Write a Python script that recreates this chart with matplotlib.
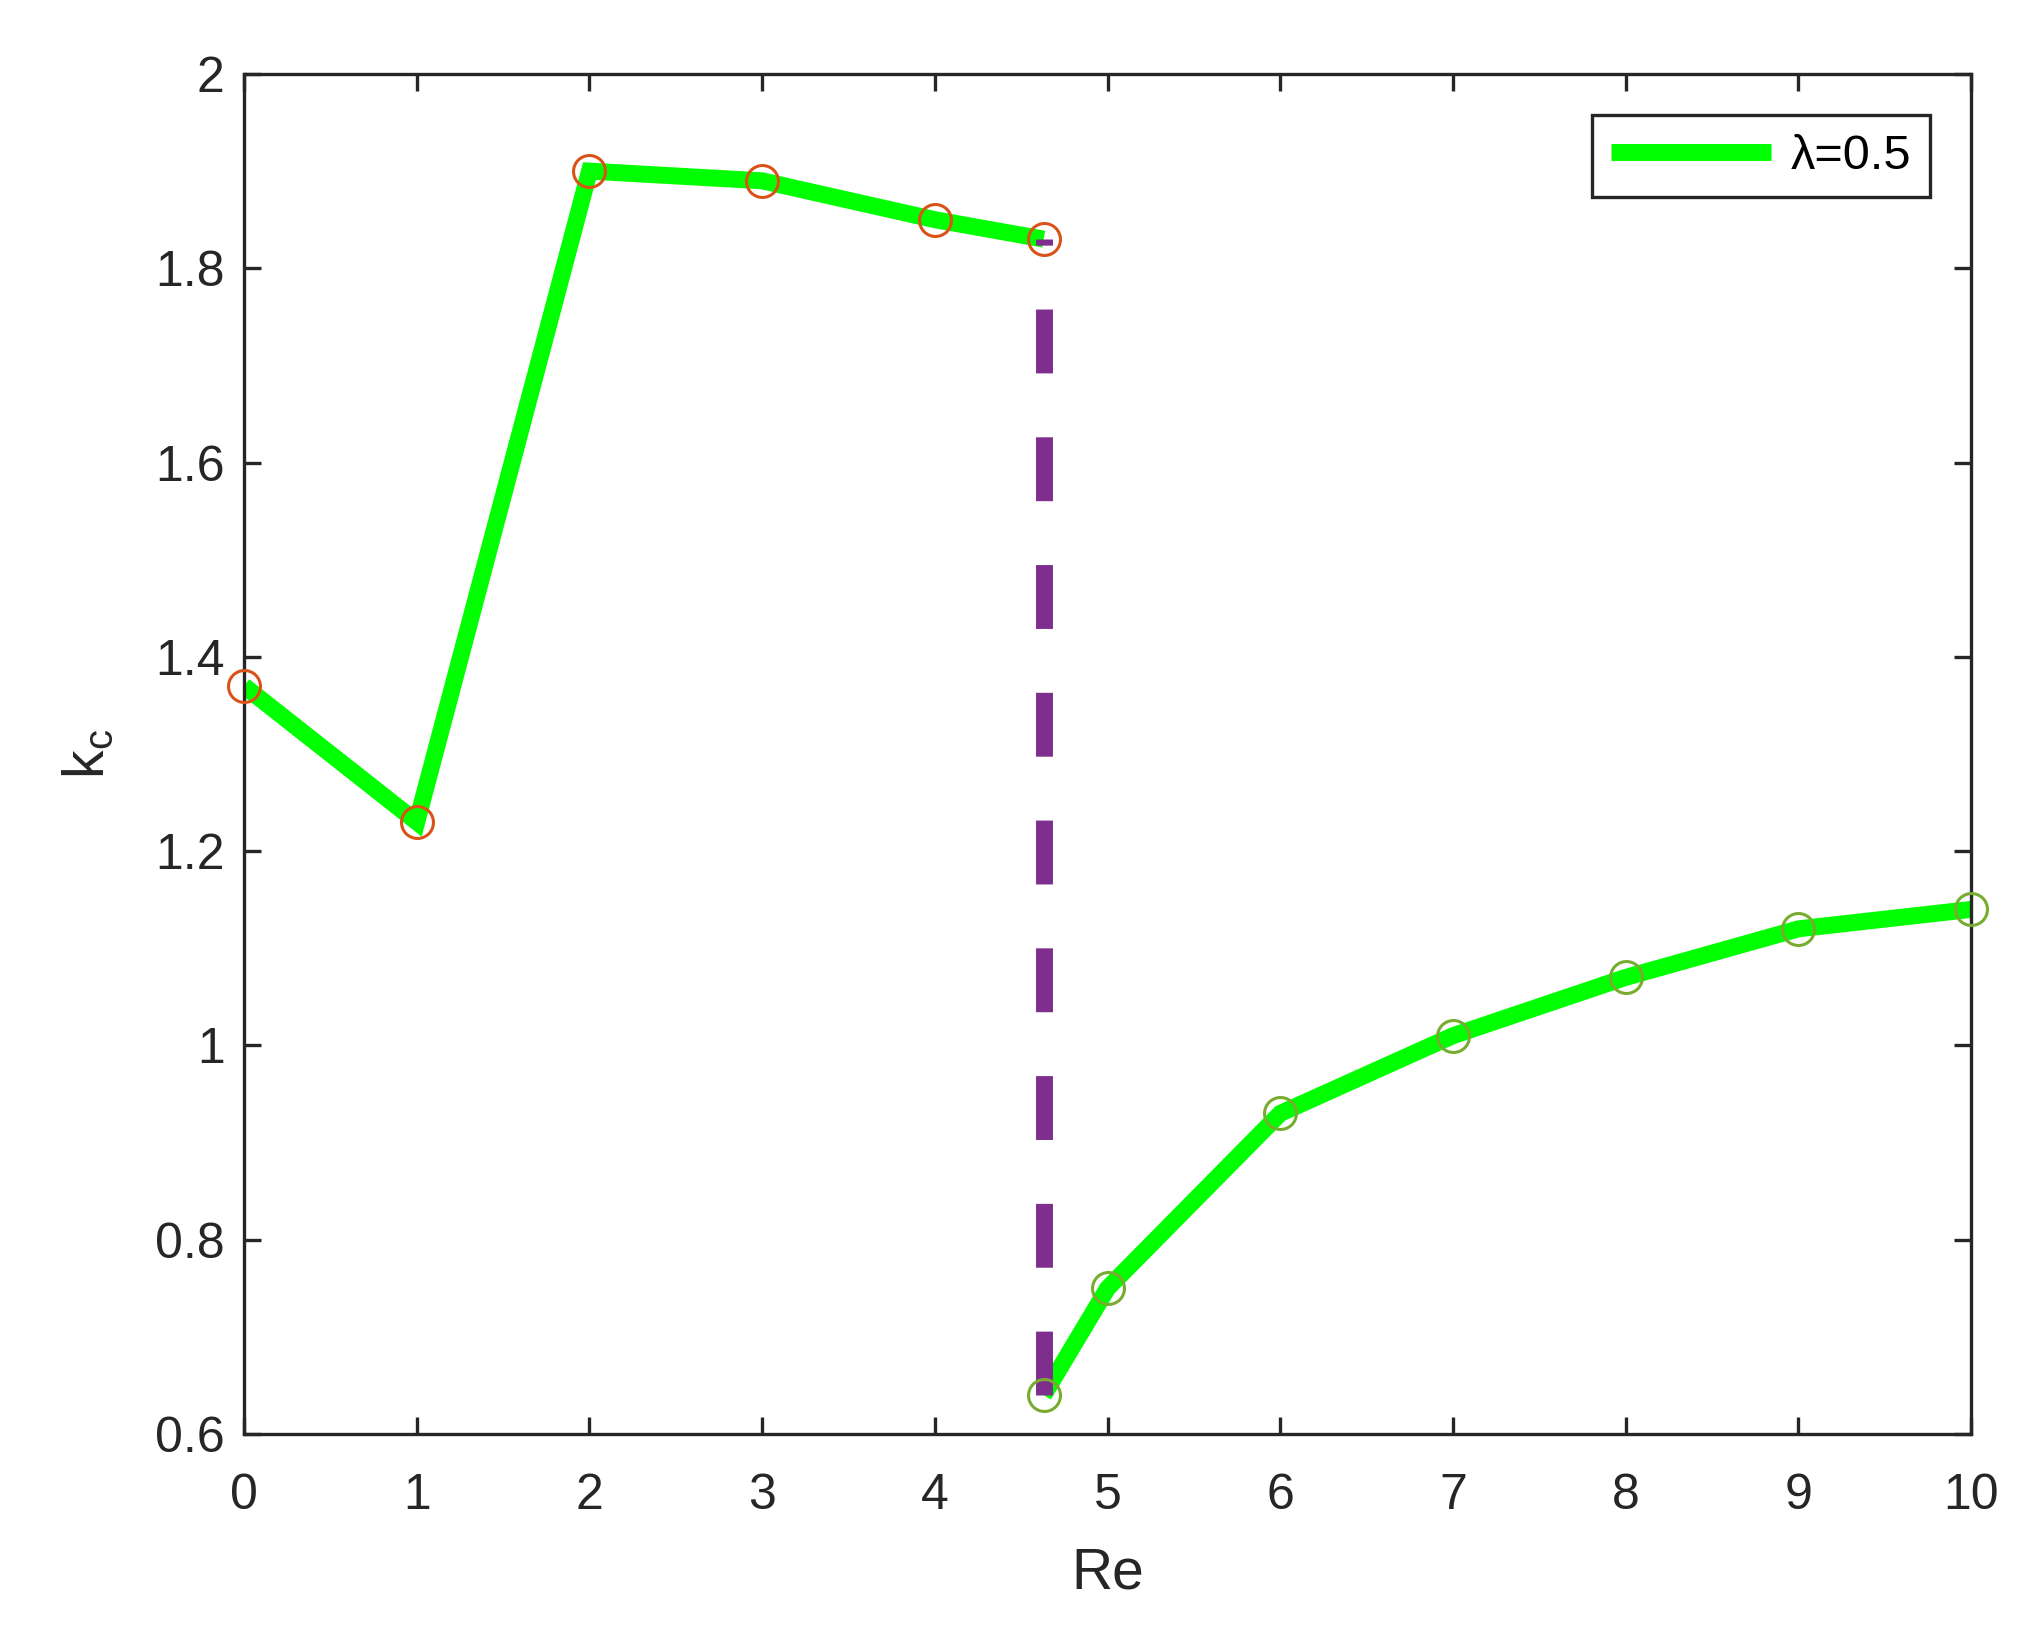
import matplotlib
matplotlib.use("Agg")
import matplotlib.pyplot as plt
from matplotlib.ticker import FuncFormatter

plt.rcParams['font.family'] = ['Liberation Sans', 'DejaVu Sans']
plt.rcParams['mathtext.default'] = 'regular'

# upper branch (before the jump)
re_upper = [0, 1, 2, 3, 4, 4.63]
kc_upper = [1.37, 1.23, 1.90, 1.89, 1.85, 1.83]

# lower branch (after the jump)
re_lower = [4.63, 5, 6, 7, 8, 9, 10]
kc_lower = [0.64, 0.75, 0.93, 1.01, 1.07, 1.12, 1.14]

re_jump = 4.63
x_ticks = list(range(0, 11))
y_ticks = [0.6, 0.8, 1.0, 1.2, 1.4, 1.6, 1.8, 2.0]

dark = '#262626'
green = '#00ff00'
red = '#d95319'
olive = '#77ac30'
purple = '#7e2f8e'

fig = plt.figure(figsize=(2039 / 200, 1629 / 200), dpi=200)
ax = fig.add_axes([0.1197, 0.1197, 0.9667 - 0.1197, 0.9546 - 0.1197])

lw = 6.1
ax.plot(re_upper, kc_upper, color=green, lw=lw, solid_joinstyle='miter',
        solid_capstyle='butt', label='λ=0.5', zorder=2)
ax.plot(re_lower, kc_lower, color=green, lw=lw, solid_joinstyle='miter',
        solid_capstyle='butt', zorder=2)

# vertical dashed jump line, drawn from the bottom up
ax.plot([re_jump, re_jump], [kc_lower[0], kc_upper[-1]], color=purple, lw=lw,
        dashes=(3.77, 3.77), dash_capstyle='butt', zorder=3)

ax.plot(re_upper, kc_upper, 'o', ms=11.5, mfc='none', mec=red, mew=1.1,
        zorder=4, clip_on=False)
ax.plot(re_lower, kc_lower, 'o', ms=11.5, mfc='none', mec=olive, mew=1.1,
        zorder=4, clip_on=False)

ax.set_xlim(0, 10)
ax.set_ylim(0.6, 2)
ax.set_xticks(x_ticks)
ax.set_yticks(y_ticks)
ax.yaxis.set_major_formatter(FuncFormatter(lambda v, p: '%g' % v))

for s in ax.spines.values():
    s.set_color(dark)
    s.set_linewidth(1.2)
ax.tick_params(direction='in', length=6, width=1.2, color=dark, labelcolor=dark,
               labelsize=18, top=True, right=True)
ax.tick_params(axis='x', pad=14)
ax.tick_params(axis='y', pad=7)

ax.set_xlabel('Re', fontsize=20.5, color=dark, labelpad=10)
ax.set_ylabel('k$_c$', fontsize=20.5, color=dark, labelpad=14)

leg = ax.legend(loc='upper right', fontsize=17.5, handlelength=3.3,
                borderaxespad=0.85, fancybox=False, framealpha=1,
                edgecolor=dark, borderpad=0.38, handletextpad=0.4)
leg.get_frame().set_linewidth(1.2)

fig.savefig('out.png', dpi=200, facecolor='white')
